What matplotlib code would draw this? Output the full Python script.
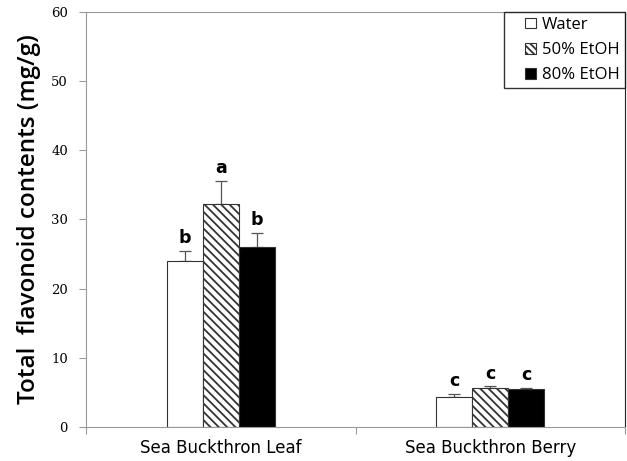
import numpy as np
import matplotlib
matplotlib.use('Agg')
import matplotlib.pyplot as plt
from matplotlib.patches import Rectangle
from matplotlib.legend_handler import HandlerPatch

groups = ['Sea Buckthron Leaf', 'Sea Buckthron Berry']
solvents = ['Water', '50% EtOH', '80% EtOH']
water = [24.0, 4.4]
etoh50 = [32.3, 5.7]
etoh80 = [26.0, 5.5]
water_err = [1.5, 0.4]
etoh50_err = [3.3, 0.2]
etoh80_err = [2.1, 0.2]
water_sig = ['b', 'c']
etoh50_sig = ['a', 'c']
etoh80_sig = ['b', 'c']

plt.rcParams['hatch.linewidth'] = 1.3
fig = plt.figure(figsize=(6.27, 4.61), dpi=100)
ax = fig.add_axes([0.1372, 0.0738, 0.8596, 0.9002])

x = np.arange(len(groups))
w = 0.134
series = [(water, water_err, water_sig, 'white', ''),
          (etoh50, etoh50_err, etoh50_sig, 'white', '\\\\\\\\'),
          (etoh80, etoh80_err, etoh80_sig, 'black', '')]
proxies = []
for i, (vals, errs, sig, fc, hatch) in enumerate(series):
    pos = x + (i - 1) * w
    ax.bar(pos, vals, w, color=fc, edgecolor='#333333', linewidth=0.8,
           hatch=hatch, zorder=2)
    ax.errorbar(pos, vals, yerr=[np.zeros(len(vals)), errs], fmt='none',
                ecolor='#555555', elinewidth=0.9, capsize=4, capthick=0.9, zorder=1)
    for p, v, e, s in zip(pos, vals, errs, sig):
        ax.text(p, v + e + 0.5, s, ha='center', va='bottom',
                fontsize=12.5, fontweight='bold', family='DejaVu Sans')
    proxies.append(Rectangle((0, 0), 1, 1, facecolor=fc, edgecolor='#333333',
                             linewidth=0.8, hatch='\\\\\\\\\\' if hatch else ''))

ax.set_xlim(-0.5, 1.5)
ax.set_ylim(0, 60)
ax.set_yticks(range(0, 61, 10))
ax.set_xticks([-0.5, 0.5, 1.5])
ax.set_xticklabels([])
ax.set_xticks(x, minor=True)
ax.set_xticklabels(groups, minor=True, fontsize=12, family='DejaVu Sans')
ax.tick_params(axis='x', which='minor', length=0, pad=9)
ax.tick_params(axis='x', which='major', length=5, color='#999999', direction='out')
ax.tick_params(axis='y', length=5, color='#999999', labelsize=9.5, pad=8)
for lab in ax.get_yticklabels():
    lab.set_family('DejaVu Serif')

for s in ['left', 'bottom', 'top']:
    ax.spines[s].set_color('#999999')
ax.spines['right'].set_color('#222222')

ax.set_ylabel('Total  flavonoid contents (mg/g)', fontsize=17.5,
              family='Open Sans', fontweight='semibold', labelpad=7)


def small_box(legend, orig_handle, xdescent, ydescent, width, height, fontsize):
    s = 7.5
    return Rectangle((width - s - xdescent, (height - s) / 2 - ydescent), s, s)


leg = ax.legend(proxies, solvents, loc='upper right', frameon=True, fancybox=False,
                borderaxespad=0, handlelength=1.6, handleheight=0.7,
                handletextpad=0.4, labelspacing=0.55, borderpad=0.3,
                prop={'family': 'Open Sans', 'size': 12},
                handler_map={Rectangle: HandlerPatch(patch_func=small_box)})
leg.get_frame().set_edgecolor('black')
leg.get_frame().set_linewidth(1.0)

fig.savefig('out.png', dpi=100)
